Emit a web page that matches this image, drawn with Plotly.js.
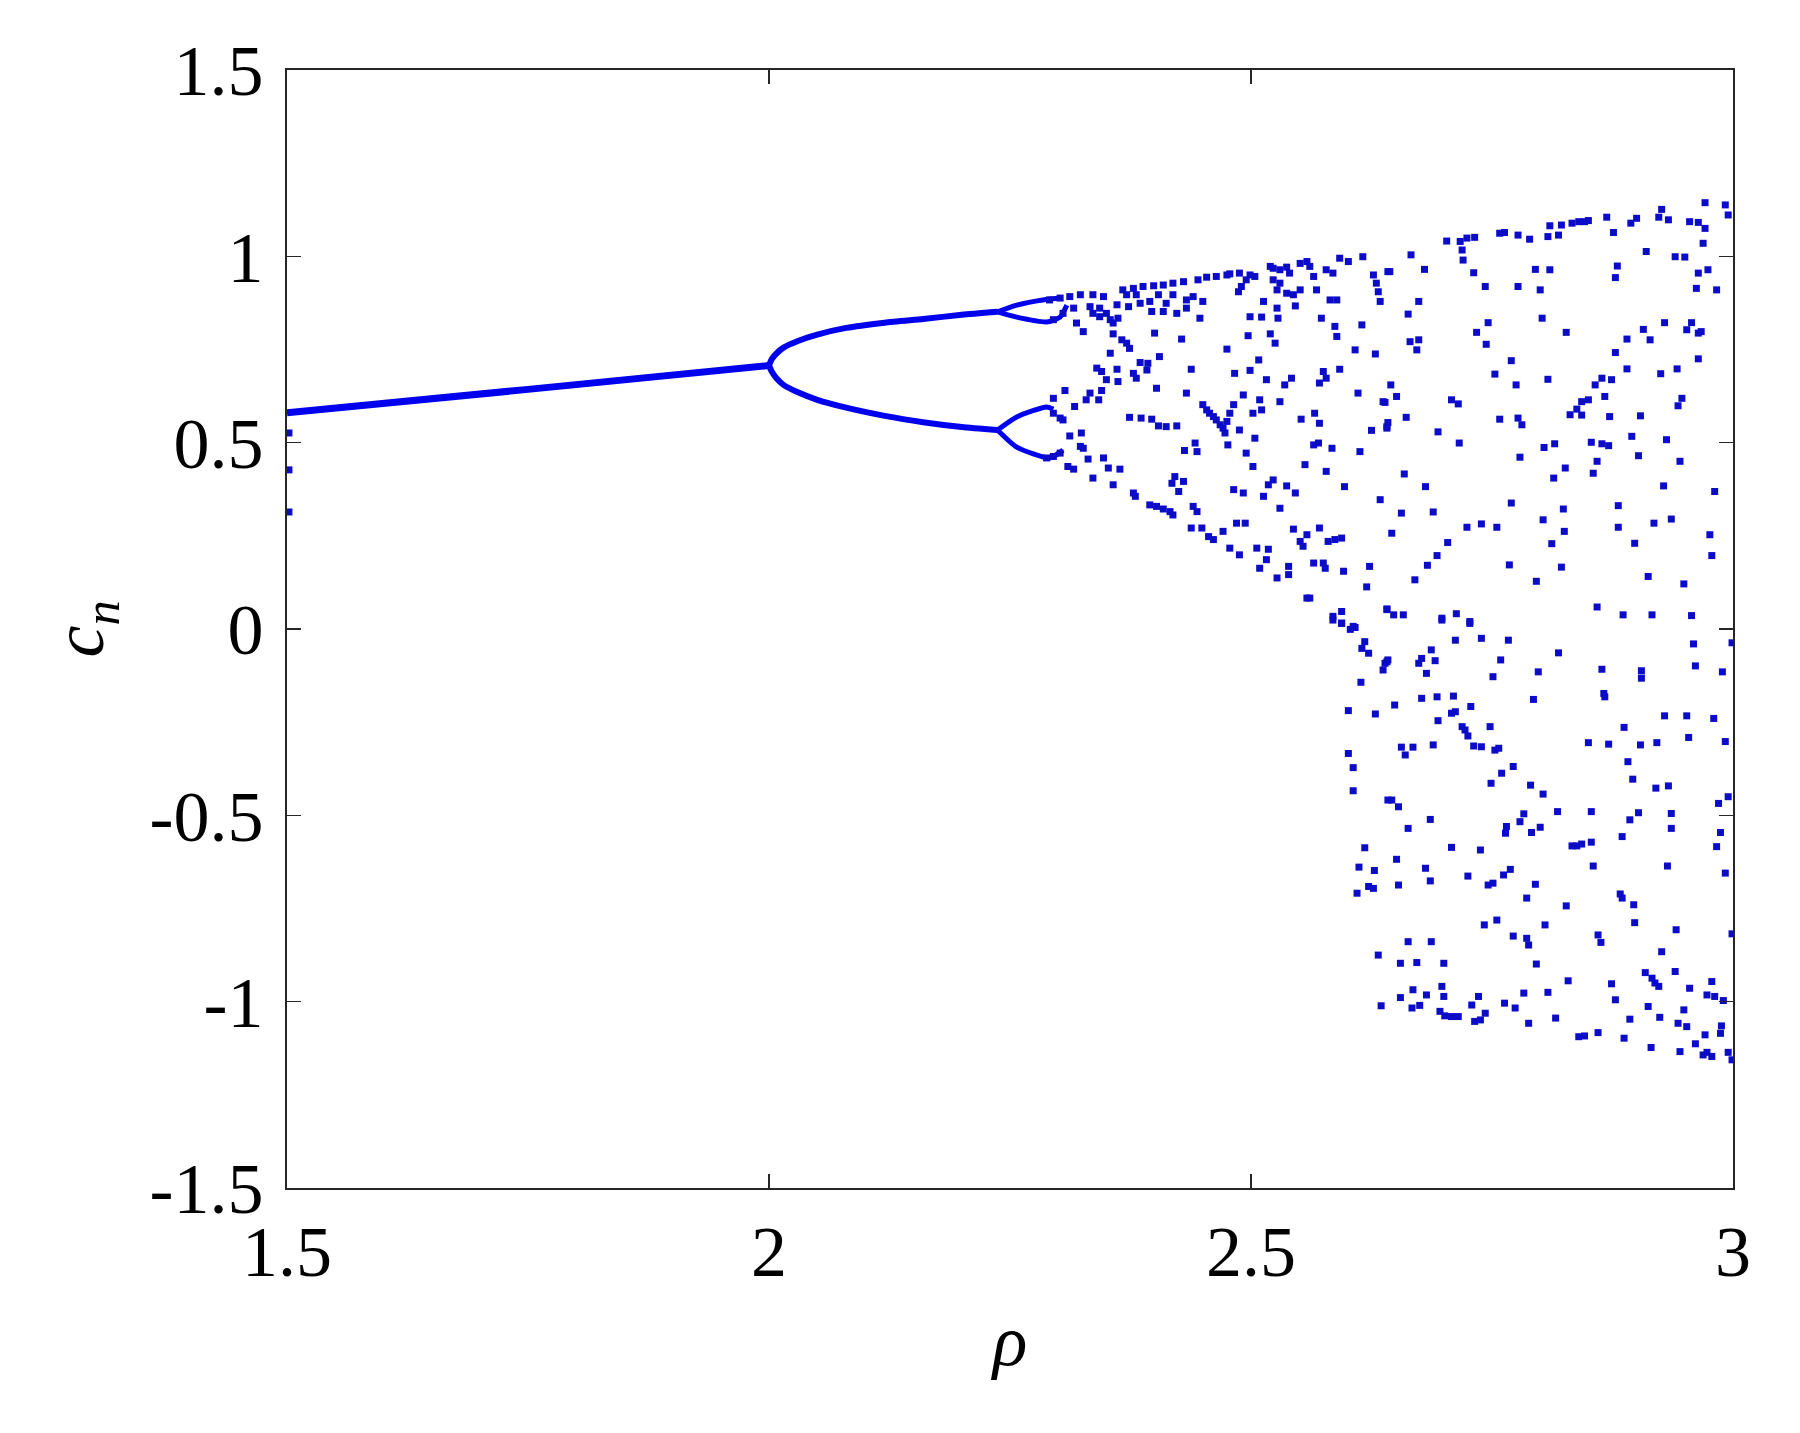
<!DOCTYPE html>
<html>
<head>
<meta charset="utf-8">
<script src="https://cdn.plot.ly/plotly-3.0.1.min.js"></script>
<style>html,body{margin:0;padding:0;background:#fff;}#chart{width:1800px;height:1433px;}</style>
</head>
<body>
<div id="chart"></div>
<script>
// ---- Data ----
const xTickVals = [1.5, 2, 2.5, 3];
const xTickText = ["1.5", "2", "2.5", "3"];
const yTickVals = [-1.5, -1, -0.5, 0, 0.5, 1, 1.5];
const yTickText = ["-1.5", "-1", "-0.5", "0", "0.5", "1", "1.5"];

// period-1 branch
const period1Rho = [1.5, 1.75, 2.0];
const period1C = [0.58, 0.643, 0.707];
// period-2 branches
const period2UpperRho = [2.0, 2.003, 2.008, 2.015, 2.03, 2.05, 2.08, 2.12, 2.16, 2.2, 2.237];
const period2UpperC = [0.707, 0.725, 0.74, 0.755, 0.773, 0.79, 0.808, 0.822, 0.832, 0.843, 0.851];
const period2LowerRho = [2.0, 2.003, 2.008, 2.015, 2.03, 2.05, 2.08, 2.12, 2.16, 2.2, 2.237];
const period2LowerC = [0.707, 0.69, 0.672, 0.655, 0.635, 0.615, 0.594, 0.572, 0.555, 0.542, 0.534];
// period-4 loops
const loopUpperARho = [2.237, 2.257, 2.284, 2.305];
const loopUpperAC = [0.851, 0.869, 0.883, 0.888];
const loopUpperBRho = [2.237, 2.257, 2.288, 2.302, 2.309];
const loopUpperBC = [0.851, 0.837, 0.824, 0.837, 0.869];
const loopLowerARho = [2.237, 2.257, 2.288, 2.295];
const loopLowerAC = [0.534, 0.569, 0.596, 0.59];
const loopLowerBRho = [2.237, 2.257, 2.291, 2.305];
const loopLowerBC = [0.534, 0.488, 0.459, 0.48];

// scattered points at the left edge
const edgePoints = [[1.502, 0.526], [1.502, 0.427], [1.502, 0.314]];

// chaotic region, upper-left part
const chaosUpperLeft = [
[2.592,0.995],[2.601,0.986],[2.616,0.999],[2.558,0.986],[2.551,0.981],[2.561,0.973],[2.523,0.968],[2.530,0.964],[2.537,0.971],[2.540,0.955],[2.520,0.973],[2.578,0.964],[2.585,0.955],[2.627,0.950],[2.642,0.959],
[2.445,0.937],[2.454,0.944],[2.464,0.946],[2.475,0.950],[2.478,0.953],[2.488,0.955],[2.499,0.950],[2.504,0.946],[2.495,0.937],[2.490,0.919],[2.487,0.905],
[2.367,0.910],[2.378,0.914],[2.388,0.919],[2.399,0.921],[2.409,0.923],[2.419,0.928],[2.430,0.932],
[2.291,0.883],[2.302,0.888],[2.312,0.892],[2.323,0.897],[2.295,0.830],[2.305,0.847],[2.316,0.861],
[2.336,0.897],[2.347,0.892],[2.371,0.897],[2.381,0.897],[2.395,0.879],[2.404,0.897],[2.419,0.897],[2.433,0.883],[2.440,0.892],[2.450,0.879],
[2.333,0.865],[2.343,0.861],[2.350,0.847],[2.336,0.847],[2.361,0.870],[2.373,0.865],[2.385,0.874],[2.397,0.852],[2.409,0.852],[2.412,0.874],[2.423,0.847],[2.433,0.861],[2.447,0.834],[2.354,0.830],[2.362,0.834],[2.357,0.821],[2.343,0.838],[2.319,0.821],[2.326,0.798],
[2.523,0.937],[2.530,0.928],[2.527,0.910],[2.537,0.901],[2.544,0.897],[2.551,0.910],[2.565,0.946],[2.568,0.910],[2.582,0.883],[2.589,0.883],[2.513,0.879],[2.527,0.861],[2.546,0.867],[2.630,0.928],[2.632,0.905],[2.634,0.879],[2.573,0.834],[2.587,0.812],[2.589,0.785],[2.615,0.816],[2.608,0.749],[2.629,0.738],
[2.499,0.838],[2.511,0.837],[2.528,0.834],[2.497,0.787],[2.520,0.792],[2.525,0.767],[2.475,0.751],[2.508,0.722],
[2.357,0.792],[2.366,0.776],[2.371,0.767],[2.374,0.753],[2.400,0.794],[2.428,0.778],[2.354,0.740],[2.405,0.731],[2.385,0.715],[2.393,0.713],[2.392,0.695],[2.340,0.700],[2.345,0.691],[2.361,0.697],[2.350,0.669],[2.362,0.664],[2.378,0.686],[2.381,0.673],[2.402,0.646],[2.438,0.697],[2.433,0.633],[2.483,0.686],[2.499,0.694],[2.516,0.669],[2.542,0.673],[2.535,0.655],[2.530,0.610],[2.492,0.628],[2.509,0.615],[2.502,0.579],[2.511,0.588],[2.575,0.691],[2.592,0.697],[2.571,0.660],[2.578,0.673],[2.611,0.633],[2.637,0.610],
[2.307,0.640],[2.295,0.619],[2.333,0.633],[2.345,0.640],[2.329,0.615],[2.342,0.615],[2.317,0.597],[2.295,0.579],[2.302,0.566],[2.305,0.561],
[2.374,0.568],[2.386,0.566],[2.397,0.563],[2.404,0.545],[2.412,0.543],[2.423,0.545],
[2.450,0.602],[2.454,0.588],[2.457,0.579],[2.461,0.570],[2.464,0.561],[2.468,0.548],[2.471,0.539],[2.473,0.526],[2.475,0.557],[2.478,0.579],[2.482,0.602],
[2.488,0.534],[2.476,0.494],[2.495,0.472],[2.504,0.512],[2.502,0.436],[2.552,0.563],[2.566,0.579],[2.571,0.552],[2.625,0.533],[2.641,0.543],[2.565,0.494],[2.570,0.499],[2.584,0.485],[2.613,0.476],
[2.312,0.518],[2.324,0.526],[2.323,0.490],[2.326,0.485],[2.331,0.456],[2.302,0.472],[2.295,0.463],[2.288,0.459],[2.347,0.459],[2.310,0.436],[2.316,0.429],[2.352,0.432],[2.364,0.429],[2.336,0.405],
[2.442,0.499],[2.431,0.479],[2.444,0.476],[2.556,0.441],[2.578,0.423],[2.597,0.382],[2.634,0.347],
[2.357,0.387],[2.378,0.365],[2.380,0.356],[2.421,0.409],[2.418,0.391],[2.430,0.396],[2.425,0.369],[2.482,0.374],[2.492,0.365],[2.518,0.387],[2.523,0.400],[2.513,0.356],[2.537,0.384],[2.546,0.365],[2.530,0.324],
[2.395,0.333],[2.402,0.329],[2.409,0.322],[2.416,0.315],[2.419,0.306],[2.440,0.329],[2.444,0.315],
[2.438,0.271],[2.449,0.271],[2.471,0.262],[2.485,0.284],[2.494,0.284],[2.456,0.248],[2.461,0.240],[2.478,0.217],[2.488,0.199],[2.506,0.217],[2.518,0.214],[2.516,0.186],[2.509,0.163],
[2.544,0.268],[2.558,0.253],[2.551,0.235],[2.554,0.222],[2.571,0.271],[2.580,0.235],[2.587,0.240],[2.594,0.244],[2.565,0.177],[2.575,0.177],[2.577,0.163],[2.596,0.155],[2.623,0.168],
[2.527,0.137],[2.539,0.168],[2.539,0.146],[2.620,0.113],[2.641,0.052],[2.558,0.083],[2.561,0.083],[2.585,0.034],[2.594,0.047],[2.594,0.016],[2.606,0.007]
];

// chaotic region, upper-right part
const chaosUpperRight = [
[2.971,1.144],[2.992,1.138],[2.995,1.111],[2.926,1.126],[2.923,1.105],[2.933,1.098],[2.955,1.093],[2.964,1.091],[2.971,1.075],[2.900,1.102],[2.894,1.089],[2.869,1.105],[2.876,1.064],
[2.810,1.082],[2.822,1.084],[2.833,1.089],[2.840,1.093],[2.846,1.093],[2.850,1.096],[2.808,1.053],[2.819,1.057],[2.789,1.046],[2.777,1.057],[2.758,1.062],[2.763,1.064],
[2.703,1.041],[2.717,1.040],[2.724,1.049],[2.732,1.051],[2.719,1.017],[2.720,0.990],[2.666,1.004],
[2.969,1.035],[2.910,1.013],[2.940,0.999],[2.950,0.998],[2.964,0.955],[2.974,0.964],[2.962,0.914],[2.983,0.910],[2.880,0.974],[2.878,0.943],[2.795,0.965],[2.810,0.964],[2.731,0.956],[2.644,0.959],[2.680,0.965],[2.743,0.919],[2.777,0.919],[2.800,0.910],
[2.674,0.879],[2.663,0.845],[2.746,0.822],[2.802,0.834],[2.734,0.796],[2.827,0.796],[2.744,0.764],[2.665,0.771],[2.674,0.776],[2.672,0.749],[2.770,0.720],
[2.929,0.822],[2.957,0.822],[2.952,0.803],[2.964,0.794],[2.967,0.798],[2.907,0.804],[2.914,0.776],[2.890,0.778],[2.878,0.742],[2.890,0.698],[2.925,0.685],[2.942,0.698],[2.964,0.725],
[2.753,0.684],[2.775,0.655],[2.808,0.670],[2.857,0.655],[2.864,0.673],[2.874,0.669],[2.867,0.624],[2.645,0.655],[2.651,0.624],[2.639,0.608],[2.708,0.615],[2.715,0.604],
[2.843,0.610],[2.850,0.615],[2.838,0.590],[2.831,0.575],[2.843,0.574],[2.872,0.570],[2.904,0.572],[2.947,0.619],[2.943,0.599],
[2.661,0.568],[2.642,0.554],[2.641,0.539],[2.694,0.529],[2.716,0.499],[2.758,0.563],[2.777,0.566],[2.781,0.548],
[2.853,0.501],[2.864,0.497],[2.871,0.492],[2.895,0.517],[2.931,0.508],[2.902,0.465],[2.945,0.450],[2.859,0.450],[2.855,0.418],[2.826,0.432],[2.814,0.405],[2.804,0.487],[2.815,0.497],[2.779,0.461],
[2.659,0.416],[2.681,0.382],[2.770,0.338],[2.928,0.384],[2.981,0.369],
[2.656,0.311],[2.689,0.314],[2.646,0.257],[2.724,0.273],[2.739,0.282],[2.755,0.273],[2.803,0.293],[2.824,0.322],[2.825,0.262],[2.881,0.331],[2.881,0.273],[2.918,0.284],[2.936,0.295],[2.976,0.253],[2.812,0.229],[2.898,0.230],[2.978,0.197],
[2.704,0.232],[2.693,0.197],[2.683,0.171],[2.670,0.132],[2.768,0.172],[2.822,0.166],[2.796,0.128],[2.912,0.141],[2.949,0.121],
[2.641,0.054],[2.648,0.038],[2.658,0.038],[2.698,0.029],[2.713,0.041],[2.727,0.020],[2.859,0.059],[2.886,0.038],[2.916,0.038],[2.957,0.036]
];

// chaotic region, lower-left part
const chaosLowerLeft = [
[2.585,0.024],[2.594,0.015],[2.603,-0.001],[2.608,0.004],[2.618,-0.034],[2.615,-0.052],[2.622,-0.065],[2.641,-0.088],[2.637,-0.110],[2.614,-0.143],
[2.601,-0.219],[2.629,-0.228],[2.601,-0.334],[2.606,-0.372],[2.606,-0.434],[2.642,-0.459],
[2.618,-0.587],[2.612,-0.639],[2.628,-0.648],[2.622,-0.691],[2.627,-0.696],[2.610,-0.709],[2.632,-0.875],[2.635,-1.011]
];

// chaotic region, lower-right part
const chaosLowerRight = [
[2.698,0.024],[2.727,0.015],[2.712,-0.030],[2.739,-0.025],[2.767,-0.030],[2.687,-0.056],[2.677,-0.079],[2.674,-0.092],[2.691,-0.085],[2.682,-0.119],[2.639,-0.092],[2.642,-0.083],[2.759,-0.083],[2.751,-0.128],[2.798,-0.115],[2.819,-0.064],[2.864,-0.108],[2.905,-0.112],[2.905,-0.132],[2.959,-0.040],[2.999,-0.037],[2.961,-0.099],[2.989,-0.115],
[2.677,-0.186],[2.693,-0.182],[2.710,-0.180],[2.728,-0.208],[2.649,-0.204],[2.708,-0.226],[2.712,-0.222],[2.694,-0.246],[2.719,-0.262],[2.722,-0.271],[2.725,-0.287],[2.748,-0.262],[2.731,-0.314],[2.739,-0.316],[2.753,-0.325],[2.757,-0.320],[2.656,-0.317],[2.668,-0.317],[2.660,-0.338],[2.689,-0.311],[2.793,-0.189],[2.866,-0.173],[2.867,-0.182],
[2.929,-0.233],[2.952,-0.233],[2.980,-0.240],[2.887,-0.264],[2.850,-0.305],[2.871,-0.309],[2.904,-0.311],[2.921,-0.305],[2.954,-0.291],[2.992,-0.302],[2.891,-0.356],[2.896,-0.403],[2.920,-0.427],[2.933,-0.421],
[2.772,-0.369],[2.760,-0.387],[2.749,-0.414],[2.790,-0.419],[2.803,-0.443],[2.646,-0.459],[2.653,-0.477],[2.686,-0.511],[2.663,-0.535],[2.783,-0.496],[2.779,-0.517],[2.765,-0.530],[2.764,-0.548],[2.791,-0.546],[2.800,-0.532],[2.818,-0.490],[2.853,-0.490],[2.902,-0.493],[2.893,-0.512],[2.936,-0.495],[2.936,-0.535],[2.985,-0.468],[2.995,-0.450],[2.987,-0.546],[2.983,-0.584],[2.885,-0.557],[2.833,-0.582],[2.838,-0.582],[2.843,-0.577],[2.853,-0.572],[2.855,-0.636],[2.932,-0.636],[2.992,-0.655],
[2.708,-0.586],[2.738,-0.593],[2.651,-0.618],[2.681,-0.642],[2.686,-0.676],[2.653,-0.687],[2.725,-0.663],[2.746,-0.687],[2.751,-0.682],[2.762,-0.660],[2.769,-0.645],[2.795,-0.685],[2.786,-0.722],[2.827,-0.743],[2.883,-0.711],[2.885,-0.722],[2.897,-0.740],[2.898,-0.788],[2.941,-0.807],
[2.742,-0.794],[2.755,-0.781],[2.805,-0.794],[2.772,-0.824],[2.786,-0.830],[2.788,-0.848],[2.860,-0.821],[2.863,-0.841],[2.999,-0.818],
[2.663,-0.839],[2.687,-0.839],[2.655,-0.897],[2.672,-0.895],[2.700,-0.897],[2.796,-0.899],[2.829,-0.944],[2.926,-0.866],[2.940,-0.919],[2.909,-0.922],[2.916,-0.937],[2.919,-0.950],[2.923,-0.959],[2.874,-0.952],[2.878,-0.995],[2.955,-0.964],[2.978,-0.946],[2.973,-0.982],[2.981,-0.986],[2.990,-0.997],
[2.668,-0.968],[2.655,-0.989],[2.682,-0.982],[2.675,-1.010],[2.667,-1.017],[2.698,-0.959],[2.700,-0.986],[2.696,-1.026],[2.701,-1.038],[2.708,-1.040],[2.715,-1.040],[2.736,-0.986],[2.729,-1.009],[2.743,-1.031],[2.738,-1.049],[2.732,-1.053],[2.763,-1.004],[2.774,-1.017],[2.783,-0.977],[2.808,-0.975],[2.788,-1.058],[2.816,-1.044],
[2.840,-1.094],[2.846,-1.092],[2.860,-1.083],[2.887,-1.098],[2.893,-1.047],[2.912,-1.013],[2.924,-1.042],[2.949,-1.022],[2.943,-1.058],[2.952,-1.067],[2.971,-1.089],[2.987,-1.085],[2.988,-1.065],[2.961,-1.113],[2.915,-1.123],[2.945,-1.134],[2.969,-1.143],[2.973,-1.136],[2.978,-1.147],[2.995,-1.136],[2.999,-1.156]
];

// ---- Build traces ----
const BLUE = '#0000ee';
const DOT = '#0c0cc8';
function lineTrace(x, y, w) {
  return {x: x, y: y, mode: 'lines', type: 'scatter', line: {color: BLUE, width: w, shape: 'spline', smoothing: 0.6}, hoverinfo: 'skip', showlegend: false};
}
function dotTrace(pts) {
  return {x: pts.map(p => p[0]), y: pts.map(p => p[1]), mode: 'markers', type: 'scatter',
    marker: {color: DOT, size: 7, symbol: 'square', line: {width: 0}}, hoverinfo: 'skip', showlegend: false, cliponaxis: true};
}
const traces = [
  lineTrace(period1Rho, period1C, 7),
  lineTrace(period2UpperRho, period2UpperC, 6),
  lineTrace(period2LowerRho, period2LowerC, 6),
  lineTrace(loopUpperARho, loopUpperAC, 5),
  lineTrace(loopUpperBRho, loopUpperBC, 5),
  lineTrace(loopLowerARho, loopLowerAC, 5),
  lineTrace(loopLowerBRho, loopLowerBC, 5),
  dotTrace(edgePoints),
  dotTrace(chaosUpperLeft),
  dotTrace(chaosUpperRight),
  dotTrace(chaosLowerLeft),
  dotTrace(chaosLowerRight)
];

const FONT = 'Liberation Serif, Times New Roman, serif';
const AXC = '#262626';
const layout = {
  width: 1800, height: 1433,
  margin: {l: 287, r: 67, t: 70, b: 245, pad: 0},
  paper_bgcolor: '#ffffff', plot_bgcolor: '#ffffff',
  showlegend: false,
  font: {family: FONT, size: 72, color: '#000'},
  xaxis: {
    range: [1.5, 3], tickmode: 'array', tickvals: xTickVals, ticktext: xTickText,
    ticks: 'inside', ticklen: 14, tickwidth: 1.5, tickcolor: AXC,
    showline: true, linecolor: AXC, linewidth: 2, mirror: 'ticks',
    showgrid: false, zeroline: false,
    tickfont: {family: FONT, size: 72, color: '#000'},
    ticklabelstandoff: 0,
    title: {text: '<i>ρ</i>', font: {family: FONT, size: 72, color: '#000'}, standoff: 23}
  },
  yaxis: {
    range: [-1.5, 1.5], tickmode: 'array', tickvals: yTickVals, ticktext: yTickText,
    ticks: 'inside', ticklen: 14, tickwidth: 1.5, tickcolor: AXC,
    showline: true, linecolor: AXC, linewidth: 2, mirror: 'ticks',
    showgrid: false, zeroline: false,
    tickfont: {family: FONT, size: 72, color: '#000'},
    ticklabelstandoff: 7,
    title: {text: '<i>c</i><sub><i>n</i></sub>', font: {family: FONT, size: 72, color: '#000'}, standoff: 22}
  }
};
Plotly.newPlot('chart', traces, layout, {displayModeBar: false, staticPlot: true});
</script>
</body>
</html>
